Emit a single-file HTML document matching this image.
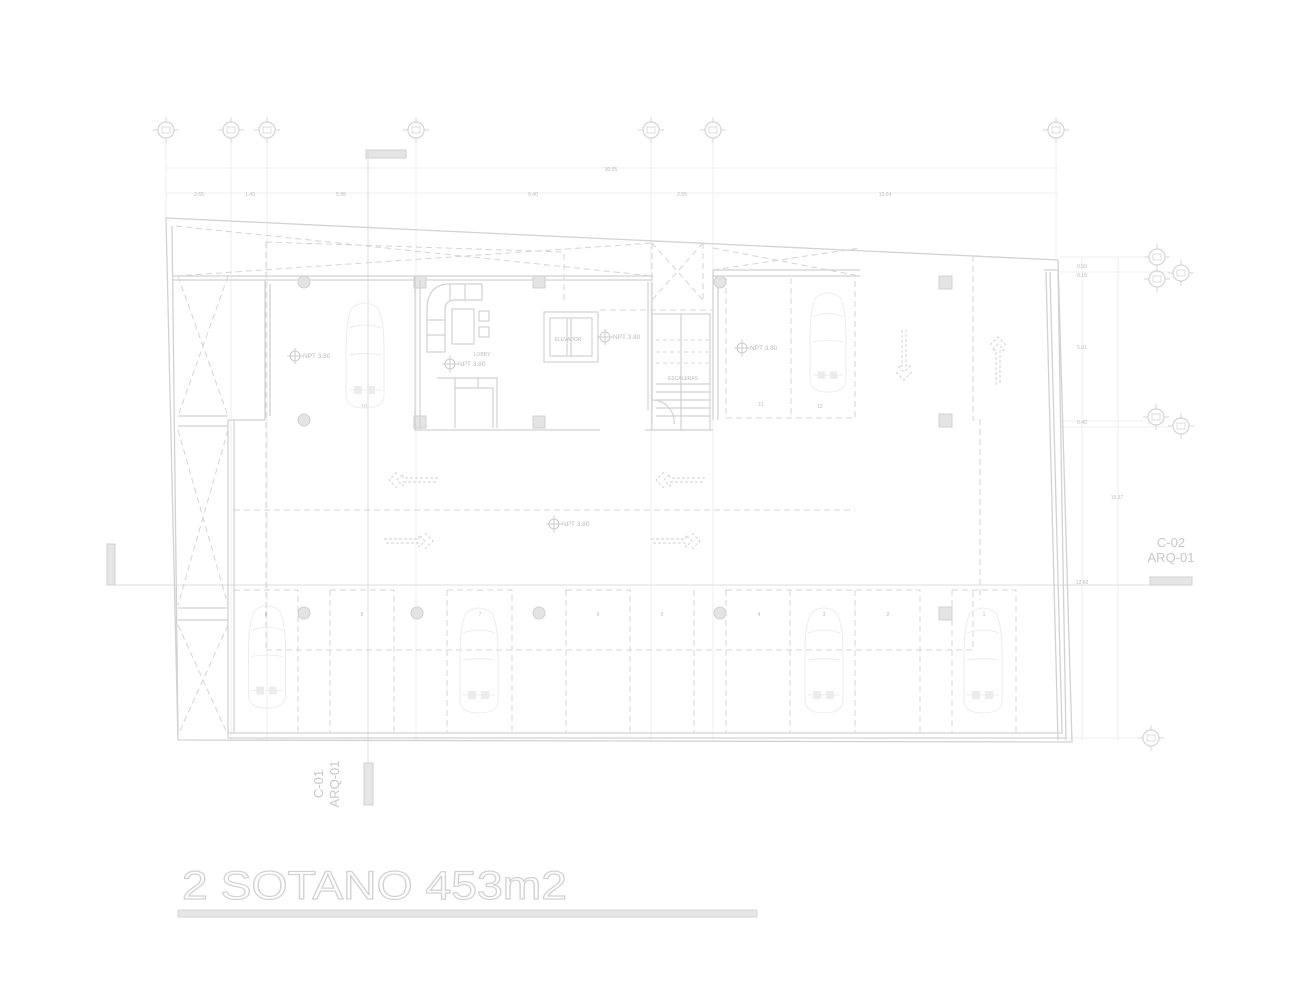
<!DOCTYPE html>
<html><head><meta charset="utf-8"><style>html,body{margin:0;padding:0;background:#fff}svg{display:block}</style></head>
<body>
<svg width="1300" height="1000" viewBox="0 0 1300 1000" xmlns="http://www.w3.org/2000/svg" font-family="Liberation Sans, sans-serif">
<defs>
<symbol id="car" viewBox="0 0 42 110" overflow="visible">
<g fill="none" stroke="#ececec" stroke-width="1">
<path d="M8 8 Q21 -2 34 8 Q40 20 40 50 L40 95 Q40 108 21 108 Q2 108 2 95 L2 50 Q2 20 8 8Z"/>
<path d="M5 28 Q21 22 37 28"/><path d="M5 55 Q21 52 37 55"/><path d="M5 90 L37 90"/>
</g>
<rect x="10" y="86" width="8" height="8" fill="#ececec"/><rect x="23" y="86" width="8" height="8" fill="#ececec"/>
</symbol>
<g id="mk"><circle r="8" fill="none" stroke="#d4d4d4" stroke-width="1.2"/><line x1="-13" y1="0" x2="-8" y2="0" stroke="#d4d4d4"/><line x1="8" y1="0" x2="13" y2="0" stroke="#d4d4d4"/><line x1="0" y1="-13" x2="0" y2="-8" stroke="#d4d4d4"/><line x1="0" y1="8" x2="0" y2="13" stroke="#d4d4d4"/><rect x="-4" y="-3" width="8" height="6" fill="none" stroke="#d4d4d4" stroke-width="0.8"/></g>
<g id="npt"><circle r="5" fill="none" stroke="#ccc"/><line x1="-8" x2="8" stroke="#ccc"/><line y1="-8" y2="8" stroke="#ccc"/></g>
</defs>

<!-- grid lines -->
<g stroke="#efefef" stroke-width="1">
<line x1="166" y1="140" x2="166" y2="218"/><line x1="231" y1="140" x2="231" y2="740"/><line x1="267" y1="140" x2="267" y2="740"/>
<line x1="416" y1="140" x2="416" y2="740"/><line x1="651" y1="140" x2="651" y2="740"/><line x1="713" y1="140" x2="713" y2="740"/><line x1="1056" y1="140" x2="1056" y2="262"/>
<line x1="166" y1="168" x2="1058" y2="168"/><line x1="166" y1="193" x2="1058" y2="193"/>
<line x1="1060" y1="257" x2="1145" y2="257"/><line x1="1060" y1="272" x2="1170" y2="272"/><line x1="1060" y1="421" x2="1145" y2="421"/><line x1="1060" y1="427" x2="1170" y2="427"/><line x1="1060" y1="738" x2="1140" y2="738"/>
<line x1="1082" y1="257" x2="1082" y2="740"/><line x1="1118" y1="257" x2="1118" y2="740"/>
</g>
<g font-size="5" fill="#bbb" text-anchor="middle">
<text x="611" y="171">30.05</text><text x="199" y="196">2.65</text><text x="250" y="196">1.40</text><text x="341" y="196">5.95</text><text x="533" y="196">9.40</text><text x="682" y="196">2.55</text><text x="885" y="196">12.04</text>
<text x="1082" y="268">0.59</text><text x="1082" y="277">0.15</text><text x="1082" y="349">5.01</text><text x="1082" y="424">0.40</text><text x="1117" y="499">10.37</text><text x="1082" y="584">12.60</text>
</g>
<use href="#mk" x="166" y="130"/><use href="#mk" x="231" y="130"/><use href="#mk" x="267" y="130"/><use href="#mk" x="416" y="130"/><use href="#mk" x="651" y="130"/><use href="#mk" x="713" y="130"/><use href="#mk" x="1056" y="130"/>
<use href="#mk" x="1157" y="257"/><use href="#mk" x="1157" y="279"/><use href="#mk" x="1181" y="273"/><use href="#mk" x="1156" y="417"/><use href="#mk" x="1181" y="426"/><use href="#mk" x="1151" y="738"/>

<!-- section markers -->
<rect x="366" y="150" width="40" height="8" fill="#e6e6e6" stroke="#d0d0d0"/>
<line x1="368" y1="150" x2="368" y2="765" stroke="#dcdcdc"/>
<line x1="107" y1="585" x2="1190" y2="585" stroke="#dcdcdc"/>
<rect x="107" y="544" width="8" height="41" fill="#e6e6e6" stroke="#d0d0d0"/>
<rect x="1150" y="577" width="42" height="8" fill="#e6e6e6" stroke="#d0d0d0"/>
<text x="1171" y="547" font-size="13" fill="#c8c8c8" text-anchor="middle">C-02</text>
<text x="1171" y="562" font-size="13" fill="#c8c8c8" text-anchor="middle">ARQ-01</text>
<rect x="364" y="763" width="9" height="42" fill="#e6e6e6" stroke="#d0d0d0"/>
<text transform="translate(323,784) rotate(-90)" font-size="13" fill="#c8c8c8" text-anchor="middle">C-01</text>
<text transform="translate(339,784) rotate(-90)" font-size="13" fill="#c8c8c8" text-anchor="middle">ARQ-01</text>

<!-- outer walls -->
<g fill="none" stroke="#d2d2d2" stroke-width="1.3">
<path d="M166 218 L1058 260 L1072 742 L178 740 Z"/>
<path d="M172 226 L178 734"/>
<path d="M172 276 L653 276 M172 280 L653 280"/>
<path d="M1044 270 L1058 270 L1066 740 M1046 272 L1058 740"/>
<path d="M228 733 L1062 733 L1050 272"/>
<path d="M228 738 L1066 738"/>
<path d="M228 420 L228 738 M234 420 L234 733"/>
<path d="M228 420 L265 420 L265 280 M270 416 L270 284"/>
<path d="M178 608 L228 608 M178 620 L228 620"/>
<path d="M178 416 L228 416 M178 426 L228 426"/>
<path d="M713 270 L860 270 M713 276 L860 276 M713 270 L713 420 M718 276 L718 420"/>
</g>
<!-- dashed -->
<g fill="none" stroke="#d4d4d4" stroke-width="1" stroke-dasharray="6,4">
<path d="M266 242 L564 252 L564 300 M266 242 L266 650"/>
<path d="M176 276 L653 243 M176 226 L653 276"/>
<path d="M713 270 L860 248 M713 248 L860 276"/>
<path d="M178 276 L228 416 M228 276 L178 416"/>
<path d="M178 430 L228 605 M228 430 L178 605"/>
<path d="M178 625 L228 735 M228 625 L178 735"/>
<path d="M652 243 L703 300 M703 243 L652 300 M652 243 L652 300 M703 243 L703 300"/>
<path d="M234 510 L855 510"/>
<path d="M726 278 L726 418 L855 418 L855 278 M791 278 L791 418"/>
<path d="M973 256 L973 420 L980 420 L980 600"/>
<path d="M266 650 L973 650 L973 590"/>
<path d="M234 590 L298 590 L298 733 M330 590 L394 590 L394 733 M330 590 L330 733 M447 590 L512 590 L512 733 M447 590 L447 733 M566 590 L630 590 L630 733 M566 590 L566 733 M694 590 L694 733 M726 590 L920 590 L920 733 M726 590 L726 733 M790 590 L790 733 M855 590 L855 733 M952 590 L1016 590 L1016 733 M952 590 L952 733"/>
<path d="M600 310 L713 310"/>
</g>
<!-- columns -->
<g fill="#e4e4e4" stroke="#d0d0d0">
<circle cx="304" cy="282" r="6"/><circle cx="304" cy="420" r="6"/>
<circle cx="304" cy="613" r="6"/><circle cx="417" cy="613" r="6"/><circle cx="539" cy="613" r="6"/><circle cx="720" cy="613" r="6"/>
<circle cx="720" cy="282" r="6"/>
<rect x="939" y="276" width="13" height="13"/><rect x="939" y="414" width="13" height="13"/><rect x="939" y="607" width="13" height="13"/>
<rect x="414" y="276" width="12" height="12"/><rect x="533" y="276" width="12" height="12"/><rect x="414" y="416" width="12" height="12"/><rect x="533" y="416" width="12" height="12"/>
</g>
<!-- lobby -->
<g fill="none" stroke="#d2d2d2" stroke-width="1.2">
<path d="M415 276 L415 430 L420 430 L420 280 M415 430 L600 430 M645 430 L713 430"/>
<path d="M648 282 L648 410 M652 282 L652 410"/>
<path d="M482 284 L450 284 Q427 284 427 310 L427 352 L445 352 L445 310 Q445 300 455 300 L482 300 Z"/>
<path d="M450 300 L450 284 M465 300 L465 284 M427 320 L445 320 M427 335 L445 335"/>
<rect x="452" y="309" width="22" height="35"/><rect x="479" y="311" width="10" height="10"/><rect x="479" y="327" width="10" height="10"/>
<path d="M437 378 L497 378 L497 428 M455 378 L455 428 M455 388 L493 388 L493 428 M478 378 L478 388"/>
<rect x="544" y="312" width="54" height="50"/><rect x="550" y="318" width="42" height="38"/>
<path d="M567 318 L567 356 M571 318 L571 356"/>
<rect x="652" y="314" width="58" height="116"/><path d="M681 314 L681 430 M656 392 L710 392 M656 400 L710 400 M656 408 L710 408 M656 416 L710 416 M656 384 L710 384"/>
<path d="M652 400 A 22 22 0 0 1 674 424"/>
</g>
<g fill="none" stroke="#dadada" stroke-dasharray="4,3"><path d="M656 340 L710 340 M656 352 L710 352 M656 363 L710 363"/></g>
<g font-size="5" fill="#bbb" text-anchor="middle">
<text x="482" y="356">LOBBY</text><text x="568" y="341">ELEVADOR</text><text x="683" y="380">ESCALERAS</text>
<text x="364" y="408">10</text><text x="761" y="406">11</text><text x="820" y="408">12</text>
<text x="266" y="616">9</text><text x="362" y="616">8</text><text x="480" y="616">7</text><text x="598" y="616">6</text><text x="662" y="616">5</text><text x="759" y="616">4</text><text x="824" y="616">3</text><text x="888" y="616">2</text><text x="984" y="616">1</text>
</g>
<g font-size="6.5" fill="#bbb">
<use href="#npt" x="295" y="356"/><text x="303" y="358">NPT 3.80</text>
<use href="#npt" x="450" y="364"/><text x="458" y="366">NPT 3.80</text>
<use href="#npt" x="605" y="337"/><text x="613" y="339">NPT 3.80</text>
<use href="#npt" x="742" y="348"/><text x="750" y="350">NPT 3.80</text>
<use href="#npt" x="554" y="524"/><text x="562" y="526">NPT 3.80</text>
</g>
<!-- cars -->
<use href="#car" x="344" y="300" width="42" height="110"/>
<use href="#car" x="807" y="290" width="42" height="104"/>
<use href="#car" x="246" y="603" width="42" height="107"/>
<use href="#car" x="458" y="605" width="42" height="110"/>
<use href="#car" x="803" y="605" width="42" height="110"/>
<use href="#car" x="962" y="605" width="42" height="110"/>
<!-- arrows -->
<g fill="none" stroke="#cfcfcf" stroke-width="0.9" stroke-dasharray="3,2">
<path d="M438 478 L403 478 L403 474 L397 480 L403 486 L403 482 L438 482"/><path d="M397 472 L389 480 L397 488"/>
<path d="M705 478 L670 478 L670 474 L664 480 L670 486 L670 482 L705 482"/><path d="M664 472 L656 480 L664 488"/>
<path d="M384 539 L419 539 L419 535 L425 541 L419 547 L419 543 L384 543"/><path d="M425 533 L433 541 L425 549"/>
<path d="M651 539 L686 539 L686 535 L692 541 L686 547 L686 543 L651 543"/><path d="M692 533 L700 541 L692 549"/>
<path d="M902 330 L902 366 L898 366 L904 372 L910 366 L906 366 L906 330"/><path d="M896 372 L904 380 L912 372"/>
<path d="M996 385 L996 350 L992 350 L998 344 L1004 350 L1000 350 L1000 385"/><path d="M990 345 L998 337 L1006 345"/>
</g>
<!-- title -->
<text x="182" y="899" font-size="40" fill="#fff" stroke="#d2d2d2" stroke-width="1.2" textLength="385" lengthAdjust="spacingAndGlyphs">2 SOTANO 453m2</text>
<rect x="178" y="910" width="579" height="7" fill="#e6e6e6" stroke="#d6d6d6"/>
</svg>
</body></html>
